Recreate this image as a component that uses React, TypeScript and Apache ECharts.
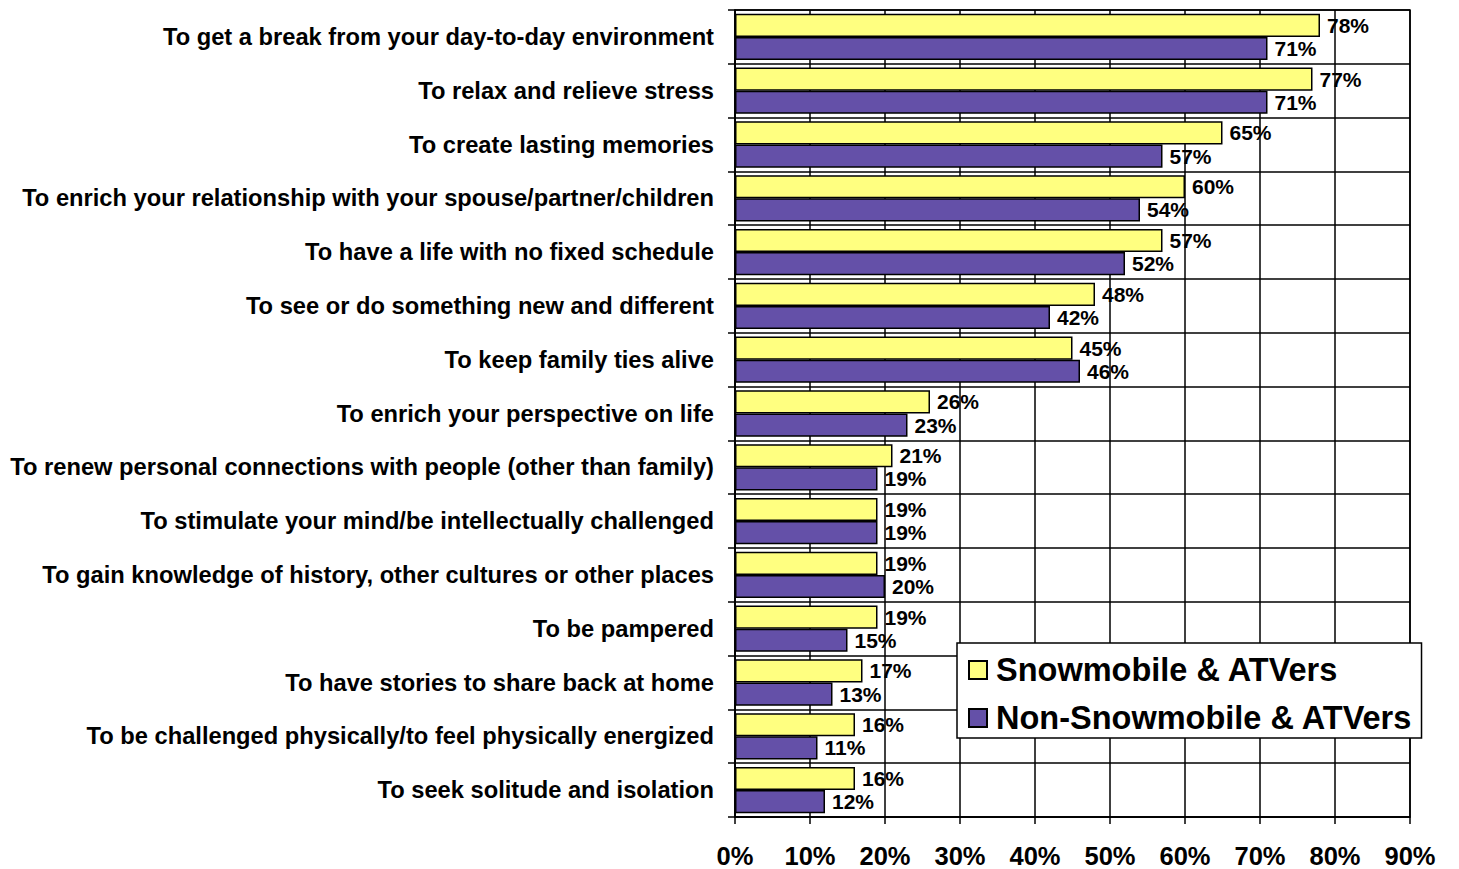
import React, { useEffect, useRef } from "react";
import * as echarts from "echarts";

const categories = [
  "To get a break from your day-to-day environment",
  "To relax and relieve stress",
  "To create lasting memories",
  "To enrich your relationship with your spouse/partner/children",
  "To have a life with no fixed schedule",
  "To see or do something new and different",
  "To keep family ties alive",
  "To enrich your perspective on life",
  "To renew personal connections with people (other than family)",
  "To stimulate your mind/be intellectually challenged",
  "To gain knowledge of history, other cultures or other places",
  "To be pampered",
  "To have stories to share back at home",
  "To be challenged physically/to feel physically energized",
  "To seek solitude and isolation",
];

const snowmobile = [78, 77, 65, 60, 57, 48, 45, 26, 21, 19, 19, 19, 17, 16, 16];
const nonSnowmobile = [71, 71, 57, 54, 52, 42, 46, 23, 19, 19, 20, 15, 13, 11, 12];

const seriesNames = ["Snowmobile & ATVers", "Non-Snowmobile & ATVers"];
const xTicks = [0, 10, 20, 30, 40, 50, 60, 70, 80, 90];

const FONT = "'Liberation Sans', Arial, Helvetica, sans-serif";

export default function App() {
  const ref = useRef<HTMLDivElement>(null);

  useEffect(() => {
    if (!ref.current) return;
    const chart = echarts.init(ref.current, undefined, { renderer: "svg" });
    const labelCfg = {
      show: true,
      position: "right",
      distance: 7,
      formatter: "{c}%",
      color: "#000",
      fontFamily: FONT,
      fontWeight: "bold",
      fontSize: 21,
    };
    chart.setOption({
      animation: false,
      backgroundColor: "#fff",
      grid: {
        left: 735,
        right: 49,
        top: 10,
        bottom: 51,
        show: true,
        borderColor: "#000",
        borderWidth: 1.5,
      },
      legend: {
        orient: "vertical",
        left: 957,
        top: 643,
        backgroundColor: "#fff",
        borderColor: "#000",
        borderWidth: 1.5,
        padding: [10, 9, 3, 11],
        itemWidth: 18,
        itemHeight: 18,
        itemGap: 14,
        icon: "rect",
        textStyle: {
          fontFamily: FONT,
          fontWeight: "bold",
          fontSize: 32.5,
          lineHeight: 34,
          color: "#000",
          padding: [0, 0, 0, 4],
        },
        data: seriesNames,
      },
      xAxis: {
        type: "value",
        min: 0,
        max: 90,
        interval: 10,
        axisLine: { show: true, lineStyle: { color: "#000", width: 1.5 } },
        axisTick: { show: true, length: 7, lineStyle: { color: "#000", width: 1.5 } },
        splitLine: { show: true, lineStyle: { color: "#000", width: 1.5 } },
        axisLabel: {
          margin: 28,
          color: "#000",
          fontFamily: FONT,
          fontWeight: "bold",
          fontSize: 25.5,
          lineHeight: 22,
          formatter: (v: number) => (xTicks.includes(v) ? v + "%" : ""),
        },
      },
      yAxis: {
        type: "category",
        data: categories,
        inverse: true,
        axisLine: { show: true, lineStyle: { color: "#000", width: 1.5 } },
        axisTick: { show: true, length: 7, lineStyle: { color: "#000", width: 1.5 } },
        splitLine: { show: true, lineStyle: { color: "#000", width: 1.5 } },
        axisLabel: {
          margin: 21,
          color: "#000",
          fontFamily: FONT,
          fontWeight: "bold",
          fontSize: 23.7,
        },
      },
      series: [
        {
          name: seriesNames[0],
          type: "bar",
          data: snowmobile,
          barGap: "0%",
          barCategoryGap: "14%",
          itemStyle: { color: "#FFFF80", borderColor: "#000", borderWidth: 1.5 },
          label: labelCfg,
        },
        {
          name: seriesNames[1],
          type: "bar",
          data: nonSnowmobile,
          barGap: "0%",
          barCategoryGap: "14%",
          itemStyle: { color: "#6450A8", borderColor: "#000", borderWidth: 1.5 },
          label: labelCfg,
        },
      ],
    });
    return () => chart.dispose();
  }, []);

  return (
    <div
      ref={ref}
      style={{ position: "fixed", left: 0, top: 0, width: 1459, height: 869 }}
    />
  );
}
